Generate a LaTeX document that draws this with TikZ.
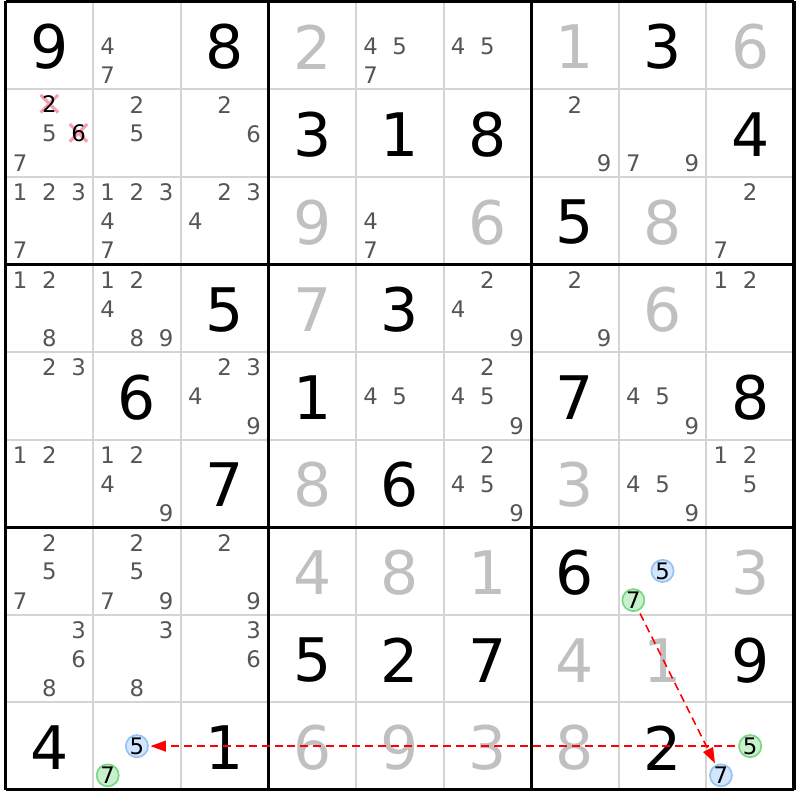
\documentclass[tikz,border=0pt]{standalone}
\usepackage{fontspec}
\setmainfont{DejaVu Sans}
\usetikzlibrary{arrows.meta}
\definecolor{gridgray}{HTML}{D4D4D4}
\definecolor{solvedgray}{HTML}{C0C0C0}
\definecolor{candgray}{HTML}{555555}
\definecolor{strikepink}{HTML}{F5A0B0}
\definecolor{bluefill}{HTML}{D2E6FF}
\definecolor{blueline}{HTML}{96C3F0}
\definecolor{greenfill}{HTML}{C8F0CD}
\definecolor{greenline}{HTML}{78D782}
\begin{document}
\begin{tikzpicture}[
            given/.style={
              font=\fontsize{19.5}{19.5}\selectfont,
              text=black,
              inner sep=0pt
            },
            solved/.style={given, text=solvedgray},
            cand/.style={
              font=\fontsize{7.4}{7.4}\selectfont,
              text=candgray,
              inner sep=0pt
            },
            bluecand/.style={cand, text=black, circle, minimum size=0.245cm,
              fill=bluefill, draw=blueline, line width=0.55pt},
            greencand/.style={cand, text=black, circle, minimum size=0.245cm,
              fill=greenfill, draw=greenline, line width=0.55pt},
            strike/.style={strikepink, line width=1pt},
            link/.style={red, line width=0.5pt, dash pattern=on 2.6pt off 1.6pt,
              -{Triangle[length=5pt,width=3.5pt]}, shorten <=1pt, shorten >=0.5pt}
        ]
    \useasboundingbox (-0.063,0.017) rectangle (9.069,-9.115);

    % grid
    \foreach \i in {1,...,8} {
      \draw[gridgray, line width=0.65pt] (\i,0) -- (\i,-9);
      \draw[gridgray, line width=0.65pt] (0,-\i) -- (9,-\i);
    }
    \foreach \i in {0,3,6,9} {
      \draw[line width=1pt] (\i,0) -- (\i,-9);
      \draw[line width=1pt] (0,-\i) -- (9,-\i);
    }

    % givens
    \foreach \c/\r/\d in {0/0/9, 2/0/8, 7/0/3, 3/1/3, 4/1/1, 5/1/8, 8/1/4,
        6/2/5, 2/3/5, 4/3/3, 1/4/6, 3/4/1, 6/4/7, 8/4/8, 2/5/7, 4/5/6,
        6/6/6, 3/7/5, 4/7/2, 5/7/7, 8/7/9, 0/8/4, 2/8/1, 7/8/2}
        \node[given] (g\r\c) at (\c+0.5,-\r-0.52) {\d};

    % solved
    \foreach \c/\r/\d in {3/0/2, 6/0/1, 8/0/6, 3/2/9, 5/2/6, 7/2/8, 3/3/7,
        7/3/6, 3/5/8, 6/5/3, 3/6/4, 4/6/8, 5/6/1, 8/6/3, 6/7/4, 7/7/1,
        3/8/6, 4/8/9, 5/8/3, 6/8/8}
        \node[solved] (g\r\c) at (\c+0.5,-\r-0.52) {\d};

    % candidates
    \foreach \c/\r/\ps in {1/0/{4,7}, 4/0/{4,5,7}, 5/0/{4,5},
        0/1/{5,7}, 1/1/{2,5}, 2/1/{2,6}, 6/1/{2,9}, 7/1/{7,9},
        0/2/{1,2,3,7}, 1/2/{1,2,3,4,7}, 2/2/{2,3,4}, 4/2/{4,7}, 8/2/{2,7},
        0/3/{1,2,8}, 1/3/{1,2,4,8,9}, 5/3/{2,4,9}, 6/3/{2,9}, 8/3/{1,2},
        0/4/{2,3}, 2/4/{2,3,4,9}, 4/4/{4,5}, 5/4/{2,4,5,9}, 7/4/{4,5,9},
        0/5/{1,2}, 1/5/{1,2,4,9}, 5/5/{2,4,5,9}, 7/5/{4,5,9}, 8/5/{1,2,5},
        0/6/{2,5,7}, 1/6/{2,5,7,9}, 2/6/{2,9},
        0/7/{3,6,8}, 1/7/{3,8}, 2/7/{3,6}}
      \foreach \p in \ps
        \node[cand] (n\r\c\p) at ({\c+(mod(\p-1,3)+0.5)/3},{-\r-(int((\p-1)/3)+0.5)/3-0.01}) {\p};

    % eliminated
    \foreach \p in {2,6} {
      \coordinate (s\p) at ({(mod(\p-1,3)+0.5)/3},{-1-(int((\p-1)/3)+0.5)/3});
      \draw[strike] (s\p) +(-0.1,0.1) -- +(0.1,-0.1)
                    (s\p) +(-0.1,-0.1) -- +(0.1,0.1);
      \node[cand, text=black] (n10\p) at (s\p) {\p};
    }

    % chain
    \foreach \c/\r/\p/\s in {7/6/5/bluecand, 7/6/7/greencand, 1/8/5/bluecand,
        1/8/7/greencand, 8/8/5/greencand, 8/8/7/bluecand}
        \node[\s] (n\r\c\p) at ({\c+(mod(\p-1,3)+0.5)/3},{-\r-(int((\p-1)/3)+0.5)/3}) {\p};

    \draw[link] (n677) -- (n887);
    \draw[link] (n885) -- (n815);

    \end{tikzpicture}
\end{document}
